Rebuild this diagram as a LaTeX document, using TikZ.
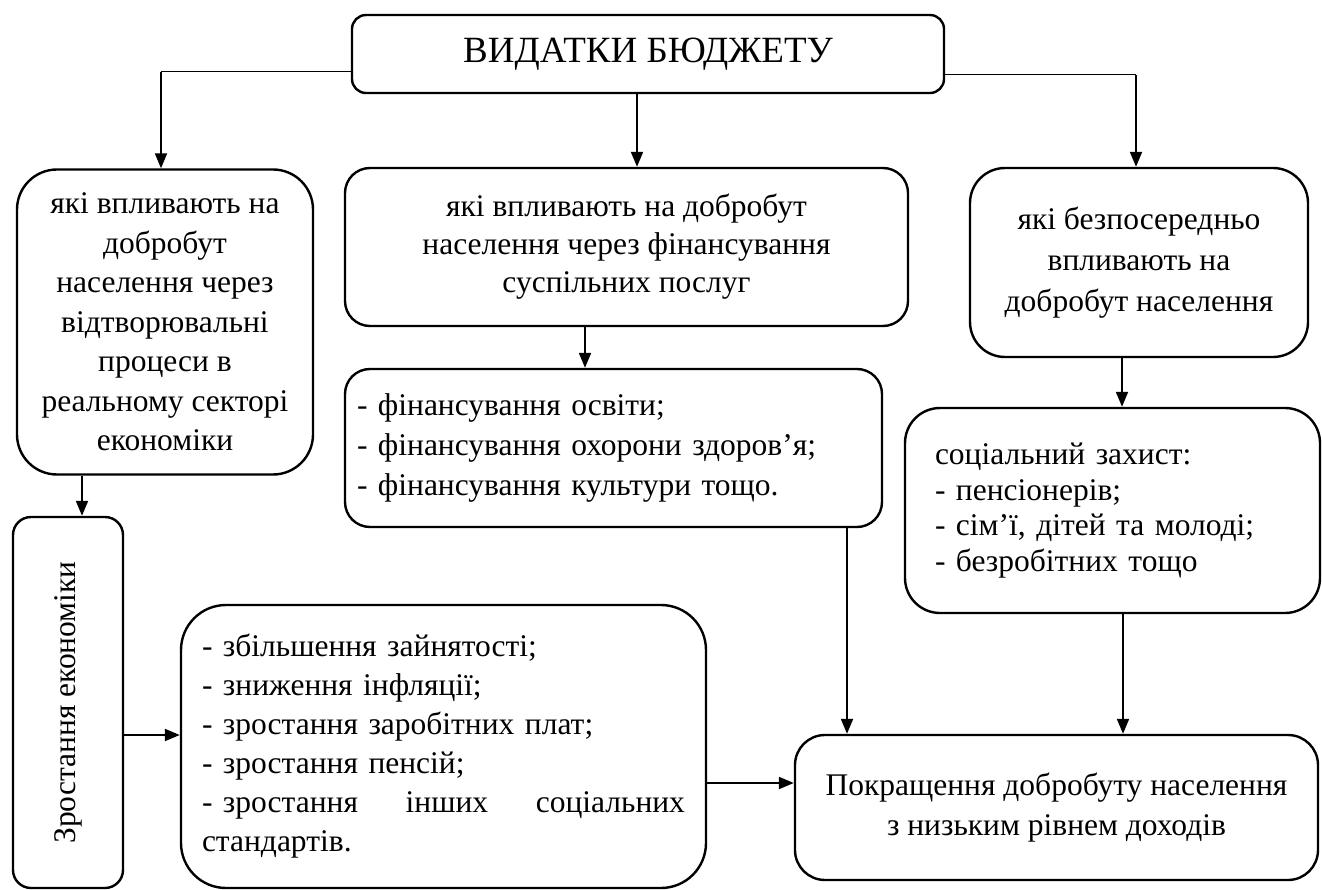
\documentclass[tikz,border=0pt]{standalone}
\usepackage{fontspec}
\setmainfont{Liberation Serif}
\usetikzlibrary{arrows.meta}

\begin{document}
\begin{tikzpicture}[x=1pt, y=-1pt,
    box/.style={draw, line width=2.4pt, rounded corners=#1, inner sep=0pt,
        font=\fontsize{31.5}{40}\selectfont},
    box/.default=25pt,
    arr/.style={line width=2pt, -{Triangle[length=15pt,width=12pt]}},
    thinlink/.style={line width=1pt}]
    \useasboundingbox (0,0) rectangle (1322,890);

    \node[box=14pt, minimum width=592pt, minimum height=78pt,
        font=\fontsize{37}{44}\selectfont] (title) at (648,54) {ВИДАТКИ БЮДЖЕТУ};

    \node[box=40pt, minimum width=296pt, minimum height=305pt, align=center,
        font=\fontsize{31.5}{39.5}\selectfont] (L1) at (165,322)
        {які впливають на\\ добробут\\ населення через\\ відтворювальні\\ процеси в\\ реальному секторі\\ економіки};
    \node[box=25pt, minimum width=563pt, minimum height=158pt, align=center,
        font=\fontsize{31.5}{38}\selectfont] (M1) at (626.5,247)
        {які впливають на добробут\\ населення через фінансування\\ суспільних послуг};
    \node[box=35pt, minimum width=338pt, minimum height=189pt, align=center,
        font=\fontsize{31.5}{41}\selectfont] (R1) at (1139,262.5)
        {які безпосередньо\\ впливають на\\ добробут населення};

    \node[box=25pt, minimum width=537pt, minimum height=158pt, text width=513pt, align=left] (M2) at (613.5,448)
        {- фінансування освіти;\\ - фінансування охорони здоров’я;\\ - фінансування культури тощо.};
    \node[box=35pt, minimum width=415pt, minimum height=205pt, text width=355pt, align=left,
        font=\fontsize{31.5}{35.5}\selectfont] (R2) at (1112.5,510.5)
        {соціальний захист:\\ - пенсіонерів;\\ - сім’ї, дітей та молоді;\\ - безробітних тощо};

    \node[box=18pt, rotate=90, minimum width=371pt, minimum height=110pt] (G) at (68,702.5)
        {Зростання економіки};
    \node[box=45pt, minimum width=525pt, minimum height=283pt, text width=483pt, align=left,
        font=\fontsize{31.5}{39}\selectfont] (B2) at (443.5,746.5)
        {- збільшення зайнятості;\\ - зниження інфляції;\\ - зростання заробітних плат;\\
         - зростання пенсій;\\ \leavevmode\hbox to 483pt{- зростання\hfill{} інших\hfill{} соціальних}\\ стандартів.};
    \node[box=30pt, minimum width=523pt, minimum height=145pt, align=center,
        font=\fontsize{31.5}{40}\selectfont] (Res) at (1056.5,807.5)
        {Покращення добробуту населення\\ з низьким рівнем доходів};

    \coordinate (tl) at (161,72);
    \coordinate (tr) at (1136,75);
    \coordinate (xl) at (82,0);
    \coordinate (xt) at (637,0);
    \coordinate (xm) at (585,0);
    \coordinate (xr) at (1122,0);
    \coordinate (xc) at (847,0);
    \coordinate (xd) at (1123,0);
    \coordinate (yg) at (0,735);
    \coordinate (yb) at (0,783);

    \draw[thinlink] (title.west |- tl) -- (tl);
    \draw[arr] (tl) -- (tl |- L1.north);
    \draw[thinlink] (title.east |- tr) -- (tr);
    \draw[arr] (tr) -- (tr |- R1.north);
    \draw[arr] (xt |- title.south) -- (xt |- M1.north);
    \draw[arr] (xm |- M1.south) -- (xm |- M2.north);
    \draw[arr] (xr |- R1.south) -- (xr |- R2.north);
    \draw[arr] (xl |- L1.south) -- (xl |- G.east);
    \draw[arr] (G.south |- yg) -- (B2.west |- yg);
    \draw[arr] (B2.east |- yb) -- (Res.west |- yb);
    \draw[arr] (xc |- M2.south) -- (xc |- Res.north);
    \draw[arr] (xd |- R2.south) -- (xd |- Res.north);
\end{tikzpicture}
\end{document}
